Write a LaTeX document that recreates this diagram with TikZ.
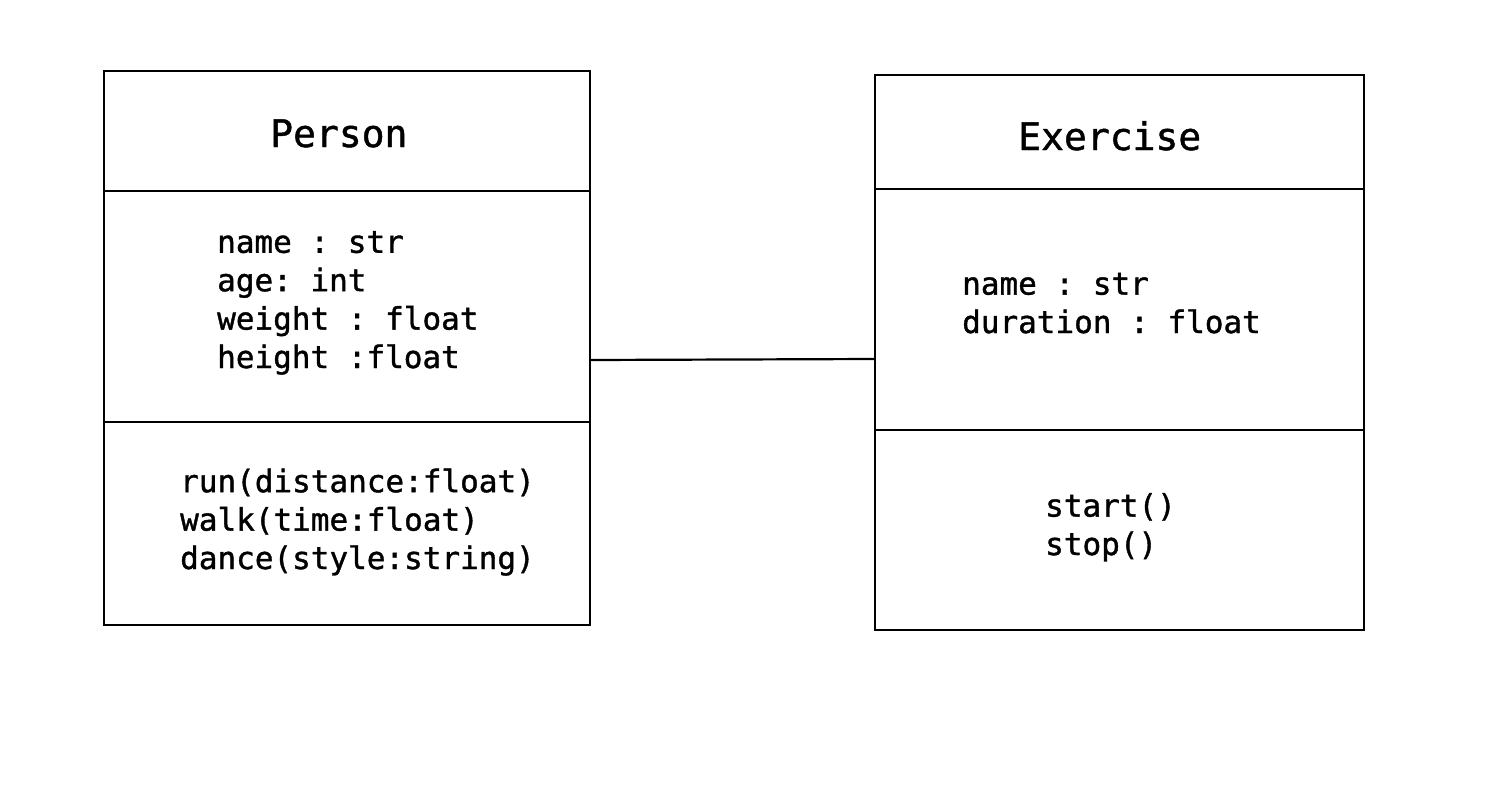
\documentclass[tikz,border=0pt]{standalone}
\usepackage{fontspec}
\setmonofont{DejaVu Sans Mono}[FakeBold=1.2]
\usetikzlibrary{positioning, calc}
\tikzset{
  every node/.style={font=\ttfamily},
  CMP/.style={draw, line width=2.2pt, inner sep=0pt},
  TTL/.style={font=\ttfamily\fontsize{38}{44}\selectfont, anchor=base west, inner sep=0pt},
  TXT/.style={font=\ttfamily\fontsize{31}{38.4}\selectfont, align=left, anchor=base west, inner sep=0pt},
  LNK/.style={line width=2.2pt},
}

\begin{document}
\begin{tikzpicture}[x=1pt, y=1pt, yscale=-1]
\useasboundingbox (0,0) rectangle (1485,790);

%% Person
\node[CMP, minimum width=486pt, minimum height=120pt] (PHEAD) at (347,131) {};
\node[CMP, minimum width=486pt, minimum height=231pt] (PATTR) at (347,306.5) {};
\node[CMP, minimum width=486pt, minimum height=203pt] (POPS)  at (347,523.5) {};
\node[TTL] (PNAME) at (270,147) {Person};
\node[TXT] (PVARS) at (217,368) {name : str\\age: int\\weight : float\\height :float};
\node[TXT] (PMETH) at (180,569) {run(distance:float)\\walk(time:float)\\dance(style:string)};

%% Exercise
\node[CMP, minimum width=489pt, minimum height=114pt] (EHEAD) at (1119.5,132) {};
\node[CMP, minimum width=489pt, minimum height=241pt] (EATTR) at (1119.5,309.5) {};
\node[CMP, minimum width=489pt, minimum height=200pt] (EOPS)  at (1119.5,530) {};
\node[TTL] (ENAME) at (1018,150) {Exercise};
\node[TXT] (EVARS) at (962,333) {name : str\\duration : float};
\node[TXT] (EMETH) at (1045,555) {start()\\stop()};

%% link
\coordinate (LA) at (PATTR.east |- 0,360);
\coordinate (LB) at (EATTR.west |- 0,359);
\draw[LNK] (LA) -- (LB);

\end{tikzpicture}
\end{document}
